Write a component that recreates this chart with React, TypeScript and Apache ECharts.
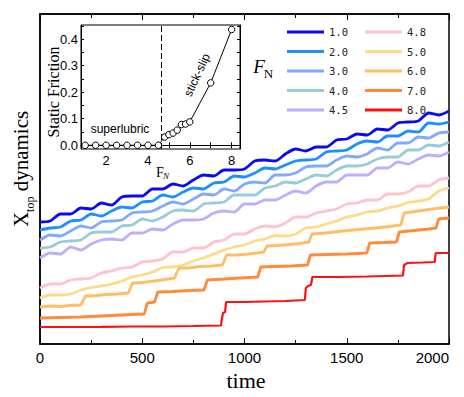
import React, { useEffect, useRef } from "react";
import * as echarts from "echarts";

// ---- main panel data (time vs X_top, arbitrary units) ----
const TIME_STEP = 50;
const TIME = Array.from({ length: 41 }, (_, i) => i * TIME_STEP);

const V_10 = [12.2, 12.3, 13.0, 13.0, 13.6, 13.5, 14.1, 13.9, 14.7, 14.8, 14.8, 15.5, 15.5, 16.0, 15.8, 16.4, 16.9, 16.8, 17.4, 17.4, 17.5, 18.3, 18.4, 18.3, 19.0, 19.5, 19.3, 19.7, 19.7, 20.4, 20.5, 21.0, 20.9, 21.5, 21.4, 22.1, 22.2, 22.3, 23.1, 22.9, 23.3];
const V_20 = [11.4, 11.6, 11.7, 12.3, 12.4, 13.0, 12.8, 13.3, 13.7, 13.6, 14.2, 14.3, 14.9, 14.7, 15.2, 15.6, 15.5, 16.1, 16.2, 16.8, 16.7, 17.1, 17.6, 17.5, 17.9, 18.3, 18.4, 18.5, 19.2, 19.3, 19.4, 20.0, 20.3, 20.2, 20.8, 20.8, 21.3, 21.2, 22.1, 22.0, 22.2];
const V_30 = [10.4, 10.9, 10.8, 11.3, 11.8, 11.6, 12.2, 12.3, 12.4, 13.1, 13.2, 13.3, 13.8, 14.2, 14.0, 14.5, 15.0, 14.9, 15.5, 15.3, 16.0, 16.2, 16.1, 16.9, 16.9, 17.1, 17.7, 17.8, 17.8, 18.4, 18.8, 18.7, 19.0, 19.6, 19.4, 20.1, 20.1, 20.7, 20.6, 21.1, 21.2];
const V_40 = [9.6, 9.7, 10.2, 10.3, 10.4, 11.1, 11.2, 11.2, 11.8, 11.9, 12.5, 12.3, 12.7, 13.3, 13.4, 13.3, 14.0, 14.1, 14.2, 14.9, 14.9, 14.9, 15.6, 15.8, 16.2, 16.1, 16.5, 16.9, 16.8, 17.4, 17.8, 17.8, 18.0, 18.5, 18.7, 18.7, 19.4, 19.4, 19.9, 19.8, 20.2];
const V_45 = [8.6, 9.1, 9.0, 9.7, 9.4, 10.0, 10.4, 10.5, 10.4, 11.1, 11.1, 11.5, 11.4, 12.0, 12.4, 12.4, 12.5, 13.1, 13.3, 13.2, 14.0, 14.0, 14.4, 14.4, 14.9, 15.3, 15.1, 15.8, 16.2, 16.2, 16.9, 16.9, 16.9, 17.6, 17.6, 18.2, 18.0, 18.5, 18.9, 18.8, 19.2];
const V_48 = [5.6, 6.0, 6.0, 6.4, 6.5, 6.6, 7.1, 7.3, 7.6, 7.7, 8.2, 8.3, 8.5, 9.2, 9.2, 9.6, 9.6, 10.2, 10.4, 11.0, 11.0, 11.5, 11.8, 11.7, 12.1, 12.7, 12.7, 13.1, 13.3, 13.5, 14.0, 14.1, 14.4, 14.4, 15.0, 15.0, 15.2, 15.8, 15.8, 16.4, 16.6];
const V_50 = [4.6, 4.9, 4.9, 5.0, 5.4, 5.65, 5.8, 6.0, 6.3, 6.7, 6.9, 7.2, 7.65, 7.7, 7.9, 8.3, 8.6, 9.0, 9.4, 9.7, 9.9, 10.3, 10.5, 10.85, 10.8, 11.0, 11.6, 11.7, 12.0, 12.3, 12.7, 12.9, 13.2, 13.3, 13.6, 13.8, 14.15, 14.3, 14.5, 15.3, 15.6];

// stick-slip curves: [time, X_top]
const P_60 = [[0, 3.7], [50, 3.8], [100, 3.75], [150, 3.85], [200, 3.9], [210, 4.3], [222, 4.8], [275, 4.85], [325, 4.95], [380, 5.0], [432, 5.1], [442, 5.6], [452, 6.1], [500, 6.15], [560, 6.3], [610, 6.45], [658, 6.6], [668, 7.1], [680, 7.6], [730, 7.6], [780, 7.75], [840, 7.8], [892, 7.9], [902, 8.4], [912, 8.9], [960, 8.9], [1020, 9.0], [1060, 9.1], [1095, 9.2], [1102, 9.5], [1110, 9.8], [1160, 9.85], [1220, 9.95], [1270, 10.05], [1315, 10.2], [1322, 10.6], [1330, 11.0], [1400, 11.1], [1480, 11.3], [1560, 11.45], [1640, 11.6], [1710, 11.75], [1765, 11.9], [1772, 12.5], [1780, 13.1], [1850, 13.3], [1920, 13.5], [2000, 13.7]];
const P_70 = [[0, 2.6], [100, 2.65], [200, 2.7], [300, 2.8], [400, 2.9], [510, 3.0], [518, 3.6], [525, 4.1], [545, 4.15], [560, 4.2], [568, 4.7], [576, 5.2], [650, 5.25], [730, 5.35], [802, 5.4], [810, 5.9], [818, 6.4], [900, 6.5], [980, 6.6], [1065, 6.7], [1072, 7.2], [1080, 7.7], [1150, 7.75], [1230, 7.8], [1308, 7.9], [1315, 8.4], [1322, 8.9], [1400, 8.95], [1500, 9.0], [1598, 9.1], [1605, 9.6], [1612, 10.1], [1680, 10.15], [1743, 10.2], [1750, 10.7], [1757, 11.2], [1830, 11.35], [1900, 11.5], [1937, 11.6], [1943, 12.1], [1950, 12.5], [2000, 12.6]];
const P_80 = [[0, 1.7], [150, 1.7], [300, 1.72], [450, 1.75], [600, 1.75], [750, 1.8], [885, 1.85], [890, 2.6], [895, 3.1], [905, 3.2], [910, 4.2], [1000, 4.2], [1100, 4.25], [1200, 4.3], [1295, 4.4], [1300, 5.6], [1310, 5.8], [1325, 5.9], [1332, 6.7], [1450, 6.7], [1600, 6.75], [1775, 6.85], [1780, 7.9], [1790, 8.0], [1795, 8.1], [1870, 8.15], [1930, 8.2], [1935, 9.1], [2000, 9.1]];

const NAMES = ["1.0", "2.0", "3.0", "4.0", "4.5", "4.8", "5.0", "6.0", "7.0", "8.0"];
const COLORS = ["#0a0af2", "#1e8fff", "#82a8ff", "#98ccd6", "#bdaeff", "#ffc2cf", "#ffda8a", "#ffbd66", "#ff8b3a", "#ff1010"];
const X_TICKS = [0, 500, 1000, 1500, 2000];

// ---- inset data ----
const FN = [1.0, 1.5, 2.0, 2.5, 3.0, 3.5, 4.0, 4.5, 4.8, 5.0, 5.2, 5.4, 5.6, 5.8, 6.0, 7.0, 8.0];
const FRICTION = [0, 0, 0, 0, 0, 0, 0, 0, 0.031, 0.04, 0.046, 0.057, 0.078, 0.08, 0.088, 0.235, 0.436];
const FN_THRESHOLD = 4.65;
const INSET_X_LABELS = [2, 4, 6, 8];
const INSET_X_TICKS = [1, 2, 3, 4, 5, 6, 7, 8];
const INSET_Y_LABELS = [0, 0.1, 0.2, 0.3, 0.4];
const INSET_Y_TICKS = [0, 0.05, 0.1, 0.15, 0.2, 0.25, 0.3, 0.35, 0.4, 0.45];

const SANS = "Liberation Sans";
const SERIF = "Liberation Serif";
const MONO = "DejaVu Sans Mono";

export default function App() {
  const ref = useRef<HTMLDivElement>(null);
  useEffect(() => {
    if (!ref.current) return;
    const chart = echarts.init(ref.current, null, { renderer: "svg" });
    const noisy = [V_10, V_20, V_30, V_40, V_45, V_48, V_50];
    const steps = [P_60, P_70, P_80];
    const mainSeries: any[] = NAMES.map((name, k) => {
      const data = k < 7 ? TIME.map((t, i) => [t, noisy[k][i]]) : steps[k - 7];
      return {
        name,
        type: "line",
        xAxisIndex: 0,
        yAxisIndex: 0,
        data,
        showSymbol: false,
        symbol: "none",
        smooth: k < 7 ? 0.25 : false,
        lineStyle: { color: COLORS[k], width: k === 9 ? 2.2 : 2.8 },
        itemStyle: { color: COLORS[k] },
        z: 2,
      };
    });
    const legendBase = {
      orient: "vertical",
      icon: "rect",
      itemWidth: 37,
      itemHeight: 3,
      itemGap: 7.5,
      top: 21,
      selectedMode: false,
      textStyle: { fontFamily: MONO, fontSize: 10.5, color: "#222", lineHeight: 12 },
    };
    const axisTickCommon = { inside: true, lineStyle: { color: "#000", width: 1 } };
    chart.setOption({
      animation: false,
      backgroundColor: "#fff",
      grid: [
        { left: 40, top: 14, width: 409, height: 330, show: true, borderColor: "#000", borderWidth: 1.5, backgroundColor: "transparent" },
        { left: 81, top: 25, width: 159, height: 124, show: true, borderColor: "#000", borderWidth: 1, backgroundColor: "#fff", z: 5 },
      ],
      legend: [
        { ...legendBase, left: 282, data: NAMES.slice(0, 5) },
        { ...legendBase, left: 360, data: NAMES.slice(5) },
      ],
      xAxis: [
        {
          type: "value", gridIndex: 0, min: 0, max: 2000, interval: 500,
          axisLine: { show: true, lineStyle: { color: "#000", width: 1.5 } },
          axisTick: { ...axisTickCommon, length: 6 },
          minorTick: { show: true, splitNumber: 2, length: 4, lineStyle: { color: "#000", width: 1 } },
          splitLine: { show: false },
          axisLabel: {
            color: "#000", fontFamily: SANS, fontSize: 15, margin: 6, showMinLabel: true, showMaxLabel: true,
            alignMaxLabel: "right", customValues: X_TICKS, formatter: (v: number) => String(v),
          },
        },
        {
          type: "value", gridIndex: 0, position: "top", min: 0, max: 2000, interval: 500,
          axisLine: { show: true, lineStyle: { color: "#000", width: 1.5 } },
          axisTick: { ...axisTickCommon, length: 6 },
          minorTick: { show: true, splitNumber: 2, length: 4, lineStyle: { color: "#000", width: 1 } },
          splitLine: { show: false },
          axisLabel: { show: false },
        },
        {
          type: "value", gridIndex: 1, min: 0.8, max: 8.4,
          axisLine: { show: true, lineStyle: { color: "#000", width: 1 } },
          axisTick: { ...axisTickCommon, length: 3, customValues: INSET_X_TICKS },
          splitLine: { show: false },
          axisLabel: { color: "#000", fontFamily: SANS, fontSize: 13, margin: 5, customValues: INSET_X_LABELS, formatter: (v: number) => String(v) },
          z: 6,
        },
        {
          type: "value", gridIndex: 1, position: "top", min: 0.8, max: 8.4,
          axisLine: { show: true, lineStyle: { color: "#000", width: 1 } },
          axisTick: { ...axisTickCommon, length: 3, customValues: INSET_X_TICKS },
          splitLine: { show: false },
          axisLabel: { show: false },
          z: 6,
        },
      ],
      yAxis: [
        {
          type: "value", gridIndex: 0, min: 0, max: 33,
          axisLine: { show: true, lineStyle: { color: "#000", width: 1.5 } },
          axisTick: { show: false },
          splitLine: { show: false },
          axisLabel: { show: false },
        },
        {
          type: "value", gridIndex: 1, min: -0.014, max: 0.453,
          axisLine: { show: true, lineStyle: { color: "#000", width: 1 } },
          axisTick: { ...axisTickCommon, length: 3, customValues: INSET_Y_TICKS },
          splitLine: { show: false },
          axisLabel: { color: "#000", fontFamily: SANS, fontSize: 13, margin: 3, customValues: INSET_Y_LABELS, formatter: (v: number) => v.toFixed(1) },
          z: 6,
        },
        {
          type: "value", gridIndex: 1, position: "right", min: -0.014, max: 0.453,
          axisLine: { show: true, lineStyle: { color: "#000", width: 1 } },
          axisTick: { ...axisTickCommon, length: 3, customValues: INSET_Y_TICKS },
          splitLine: { show: false },
          axisLabel: { show: false },
          z: 6,
        },
      ],
      series: [
        ...mainSeries,
        {
          name: "Static Friction",
          type: "line",
          xAxisIndex: 2,
          yAxisIndex: 1,
          data: FN.map((f, i) => [f, FRICTION[i]]),
          symbol: "circle",
          symbolSize: 6.5,
          showSymbol: true,
          lineStyle: { color: "#000", width: 1 },
          itemStyle: { color: "#fff", borderColor: "#000", borderWidth: 1 },
          z: 7,
          markLine: {
            silent: true,
            symbol: "none",
            label: { show: false },
            lineStyle: { color: "#000", width: 1, type: [6, 3] },
            data: [{ xAxis: FN_THRESHOLD }],
          },
        },
      ],
      graphic: [
        {
          type: "text", x: 21, y: 169, rotation: Math.PI / 2, z: 10,
          style: {
            text: "{a|X}{s|top}{a| dynamics}",
            align: "center", verticalAlign: "middle", textAlign: "center", textVerticalAlign: "middle",
            rich: {
              a: { fontFamily: SERIF, fontSize: 21, lineHeight: 30, fill: "#000", color: "#000" },
              s: { fontFamily: SERIF, fontSize: 12, lineHeight: 30, verticalAlign: "bottom", fill: "#000", color: "#000" },
            },
          },
        },
        {
          type: "text", x: 246, y: 380, z: 10,
          style: { text: "time", font: `22px "${SERIF}"`, fill: "#000", align: "center", verticalAlign: "middle", textAlign: "center", textVerticalAlign: "middle" },
        },
        {
          type: "text", x: 259, y: 66, z: 10,
          style: { text: "F", font: `italic 19px "${SERIF}"`, fill: "#000", align: "center", verticalAlign: "middle", textAlign: "center", textVerticalAlign: "middle" },
        },
        {
          type: "text", x: 268.5, y: 73, z: 10,
          style: { text: "N", font: `13px "${SERIF}"`, fill: "#000", align: "center", verticalAlign: "middle", textAlign: "center", textVerticalAlign: "middle" },
        },
        {
          type: "text", x: 53, y: 92, rotation: Math.PI / 2, z: 10,
          style: { text: "Static Friction", font: `16px "${SERIF}"`, fill: "#000", align: "center", verticalAlign: "middle", textAlign: "center", textVerticalAlign: "middle" },
        },
        {
          type: "text", x: 160, y: 172, z: 10,
          style: { text: "F", font: `14px "${SERIF}"`, fill: "#000", align: "center", verticalAlign: "middle", textAlign: "center", textVerticalAlign: "middle" },
        },
        {
          type: "text", x: 166, y: 176, z: 10,
          style: { text: "N", font: `italic 9px "${SERIF}"`, fill: "#000", align: "center", verticalAlign: "middle", textAlign: "center", textVerticalAlign: "middle" },
        },
        {
          type: "text", x: 120, y: 129, z: 10,
          style: { text: "superlubric", font: `12px "${SANS}"`, fill: "#000", align: "center", verticalAlign: "middle", textAlign: "center", textVerticalAlign: "middle" },
        },
        {
          type: "text", x: 197, y: 75, rotation: (65 * Math.PI) / 180, z: 10,
          style: { text: "stick-slip", font: `12px "${SANS}"`, fill: "#000", align: "center", verticalAlign: "middle", textAlign: "center", textVerticalAlign: "middle" },
        },
      ],
    });
    return () => chart.dispose();
  }, []);
  return <div ref={ref} style={{ position: "absolute", left: 0, top: 0, width: 464, height: 397 }} />;
}
